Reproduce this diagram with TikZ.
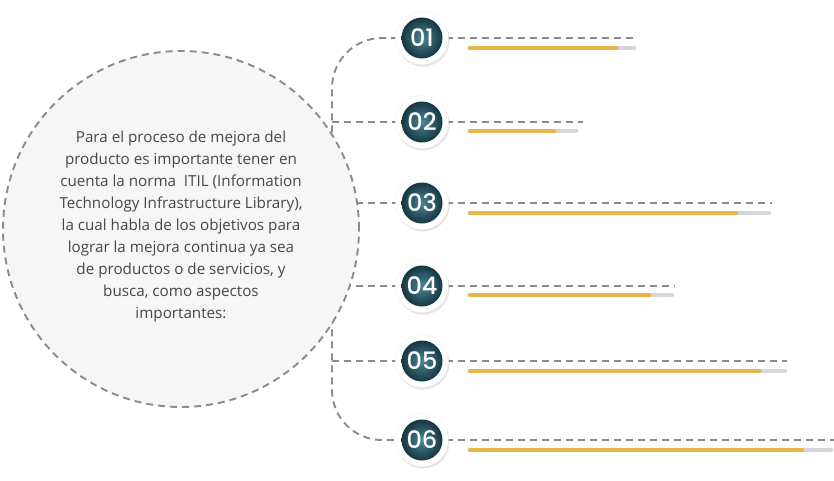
\documentclass[tikz,border=0pt]{standalone}
\usepackage{fontspec}
\setmainfont{Open Sans}
\newfontfamily\numfont{Poppins}[UprightFont=* Medium]
\usetikzlibrary{shadows}
\definecolor{guia}{HTML}{868B94}
\definecolor{fondo}{HTML}{F6F6F6}
\definecolor{oro}{HTML}{E8B448}
\definecolor{barra}{HTML}{D3D7DB}
\definecolor{tealclaro}{HTML}{4A8596}
\definecolor{tealoscuro}{HTML}{163741}
\definecolor{letra}{HTML}{474747}
\begin{document}
\begin{tikzpicture}[x=1pt,y=-1pt,
    guide/.style={draw=guia,line width=1.9pt,dash pattern=on 7pt off 5pt},
    badge/.style={circle,fill=white,draw=black!6,minimum size=53pt,
      drop shadow={shadow xshift=1pt,shadow yshift=-2pt,opacity=0.22}},
    num/.style={circle,minimum size=41pt,inner sep=0pt,inner color=tealclaro,
      outer color=tealoscuro,text=white,font=\numfont\fontsize{24}{24}\selectfont},
    track/.style={draw=barra,line width=4.5pt,line cap=round},
    level/.style={draw=oro,line width=4.5pt,line cap=round}]
  \useasboundingbox (0,0) rectangle (834,480);
  % spine and branches
  \coordinate (top) at (332,38);
  \coordinate (bot) at (332,440);
  \coordinate (s2) at (332,122);
  \coordinate (s3) at (332,203);
  \coordinate (s4) at (332,286);
  \coordinate (s5) at (332,361);
  \coordinate (e1) at (633,38);
  \coordinate (e2) at (583,122);
  \coordinate (e3) at (772,203);
  \coordinate (e4) at (675,286);
  \coordinate (e5) at (787,361);
  \coordinate (e6) at (834,440);
  \node (n1) at (422,38) {};
  \node (n2) at (422,122) {};
  \node (n3) at (422,203) {};
  \node (n4) at (422,286) {};
  \node (n5) at (422,361) {};
  \node (n6) at (422,440) {};
  \draw[guide,rounded corners=50pt] (n1.center) -- (top) -- (bot) -- (n6.center);
  \draw[guide] (s2) -- (n2.center);
  \draw[guide] (s3) -- (n3.center);
  \draw[guide] (s4) -- (n4.center);
  \draw[guide] (s5) -- (n5.center);
  \draw[guide] (n1.center) -- (e1);
  \draw[guide] (n2.center) -- (e2);
  \draw[guide] (n3.center) -- (e3);
  \draw[guide] (n4.center) -- (e4);
  \draw[guide] (n5.center) -- (e5);
  \draw[guide] (n6.center) -- (e6);
  % big circle
  \node[circle,fill=fondo,guide,minimum size=356pt] (circ) at (181,229) {};
  \node[align=center,text=letra,font=\fontsize{15.2}{22}\selectfont] (txt) at (181,227)
    {Para el proceso de mejora del\\
     producto es importante tener en\\
     cuenta la norma\ \ ITIL (Information\\
     Technology Infrastructure Library),\\
     la cual habla de los objetivos para\\
     lograr la mejora continua ya sea\\
     de productos o de servicios, y\\
     busca, como aspectos\\
     importantes:};
  % badges
  \node[badge] (b1) at (n1) {};
  \node[badge] (b2) at (n2) {};
  \node[badge] (b3) at (n3) {};
  \node[badge] (b4) at (n4) {};
  \node[badge] (b5) at (n5) {};
  \node[badge] (b6) at (n6) {};
  \node[num] (d1) at (n1) {01};
  \node[num] (d2) at (n2) {02};
  \node[num] (d3) at (n3) {03};
  \node[num] (d4) at (n4) {04};
  \node[num] (d5) at (n5) {05};
  \node[num] (d6) at (n6) {06};
  % bars
  \draw[track] (470,48) -- (634,48);
  \draw[level] (470,48) -- (616,48);
  \draw[track] (470,131) -- (576,131);
  \draw[level] (470,131) -- (554,131);
  \draw[track] (470,213) -- (769,213);
  \draw[level] (470,213) -- (736,213);
  \draw[track] (470,295) -- (672,295);
  \draw[level] (470,295) -- (649,295);
  \draw[track] (470,371) -- (785,371);
  \draw[level] (470,371) -- (759,371);
  \draw[track] (470,450) -- (831,450);
  \draw[level] (470,450) -- (802,450);
\end{tikzpicture}
\end{document}
